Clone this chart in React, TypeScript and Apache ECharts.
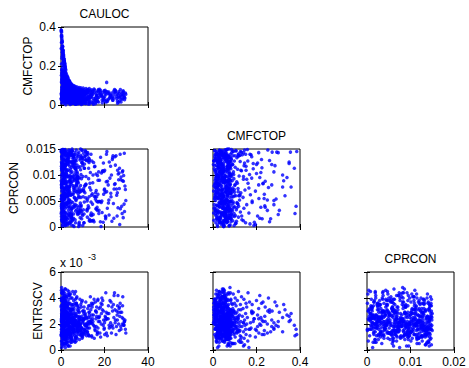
import React, { useEffect, useRef } from "react";
import * as echarts from "echarts";

// ---- Data (one entry per observation, same order in every array) ----
const CAULOC: number[] = [
  0.1, 0.2, 0.1, 0.3, 0.2, 0.4, 0.3, 0.5, 0.4, 0.6,
  0.5, 0.7, 0.6, 0.8, 0.7, 0.9, 0.8, 1.0, 0.9, 1.1,
  1.0, 1.2, 1.1, 1.3, 1.2, 1.4, 1.3, 1.5, 1.4, 1.6,
  1.5, 1.7, 1.6, 1.8, 1.7, 1.9, 2.0, 1.8, 2.1, 2.2,
  0.3, 0.8, 1.4, 2.3, 0.5, 1.9, 2.6, 0.2, 1.1, 2.8,
  3.0, 0.7, 2.1, 1.6, 3.2, 0.4, 2.7, 3.5, 1.2, 2.4,
  3.8, 1.8, 4.1, 0.9, 3.3, 4.4, 2.2, 3.7, 1.5, 4.6,
  5.0, 2.9, 4.8, 1.0, 5.5, 3.6, 6.1, 2.0, 4.3, 21.0,
  6.8, 3.1, 7.4, 5.2, 8.3, 0.6, 9.1, 4.0, 10.2, 6.5,
  11.5, 2.5, 13.0, 7.9, 15.2, 1.3, 17.8, 24.6, 12.4, 27.3,
  0.2, 3.4, 7.8, 12.1, 18.6, 25.3, 1.5, 5.9, 9.7, 29.2,
  2.1, 14.4, 0.7, 6.3, 21.7, 4.2, 10.8, 16.9, 27.6, 8.5,
  1.1, 5.1, 11.3, 23.4, 3.9, 19.5, 0.4, 7.1, 13.6, 28.4,
  2.8, 9.2, 15.8, 0.9, 26.2, 4.7, 12.9, 6.7, 20.3, 1.8,
  8.1, 3.2, 17.4, 10.4, 0.3, 24.1, 5.6, 14.9, 2.4, 29.6,
  11.9, 6.0, 1.3, 22.5, 8.8, 4.4, 16.3, 0.6, 27.0, 13.3,
  3.6, 7.4, 19.0, 1.6, 10.1, 25.8, 5.3, 14.0, 2.2, 18.1,
  0.8, 12.6, 4.9, 28.8, 7.3, 15.4, 2.6, 21.1, 9.5, 0.1,
  6.6, 3.0, 11.0, 23.9, 1.4, 17.0, 5.0, 8.9, 26.7, 13.8,
  2.0, 9.9, 4.0, 20.8, 0.5, 7.7, 14.7, 3.7, 29.0, 11.2,
  5.7, 16.0, 1.0, 8.4, 25.0, 3.3, 12.3, 0.3, 18.9, 6.9,
  10.6, 2.5, 22.9, 4.6, 14.2, 0.7, 7.0, 27.9, 9.0, 1.9,
  17.7, 5.4, 0.9, 12.0, 3.1, 20.0, 8.2, 26.0, 1.7, 15.0,
  4.1, 11.7, 0.2, 7.6, 23.0, 2.9, 16.6, 6.2, 29.4, 10.0,
  1.2, 8.6, 19.8, 3.5, 13.1, 0.4, 24.8, 5.8, 9.4, 2.7,
  14.5, 6.4, 21.4, 0.6, 11.1, 3.9, 28.1, 7.5, 17.2, 1.5,
  9.8, 2.3, 5.5, 16.4, 0.8, 26.5, 12.8, 4.3, 20.6, 7.2,
  3.0, 13.5, 0.1, 8.0, 22.2, 5.2, 18.4, 1.1, 10.9, 29.8,
  6.1, 15.6, 2.0, 24.3, 9.3, 0.5, 12.2, 4.8, 19.2, 7.8,
  1.6, 10.3, 27.2, 3.8, 14.1, 6.8, 0.9, 21.8, 8.7, 17.0,
  4.5, 11.4, 2.6, 25.6, 7.0, 0.3, 16.8, 5.5, 13.7, 28.6,
  0.7, 8.3, 20.4, 3.3, 12.7, 1.8, 6.6, 23.6, 10.5, 4.1,
  15.9, 2.9, 9.6, 0.2, 18.8, 5.0, 26.9, 13.2, 1.3, 7.4,
  3.7, 11.8, 6.3, 22.0, 0.6, 14.8, 9.1, 2.4, 19.6, 4.7,
  8.0, 0.4, 17.5, 5.9, 28.3, 2.2, 12.5, 10.7, 1.0, 24.4,
  3.1, 14.3, 7.2, 0.9, 20.9, 5.3, 16.2, 1.6, 9.7, 26.3,
  0.5, 2.3, 4.1, 6.2, 1.2, 8.4, 3.0, 10.5, 0.9, 5.3,
  7.1, 1.8, 3.6, 13.8, 0.3, 5.9, 2.7, 9.0, 4.5, 16.7,
  1.5, 6.8, 0.7, 3.9, 11.2, 2.1, 7.9, 4.8, 0.2, 19.4,
  3.3, 9.6, 1.0, 5.6, 2.5, 12.9, 0.6, 7.5, 4.2, 22.8,
  2.0, 4.4, 8.8, 1.3, 6.5, 0.4, 10.9, 3.5, 5.1, 14.6,
  0.8, 3.8, 6.0, 2.2, 9.3, 1.6, 4.7, 11.8, 0.1, 25.5,
  5.8, 2.9, 0.5, 7.3, 3.4, 13.4, 1.9, 8.1, 4.0, 17.9,
  1.1, 6.4, 2.6, 10.0, 0.7, 4.9, 3.1, 7.8, 1.4, 28.2,
  4.6, 0.3, 8.6, 2.4, 5.4, 12.2, 1.7, 6.9, 3.7, 20.5,
  2.8, 9.9, 0.9, 4.3, 7.0, 1.5, 11.5, 3.2, 5.7, 15.3,
  0.6, 3.5, 6.7, 1.2, 8.2, 2.0, 4.6, 10.3, 0.4, 23.7,
  6.3, 2.7, 0.2, 5.0, 3.9, 9.4, 1.8, 7.6, 4.4, 18.5,
  1.3, 7.2, 3.0, 11.0, 0.8, 5.5, 2.3, 8.7, 1.0, 26.8,
  4.9, 0.5, 9.1, 2.6, 6.1, 13.1, 1.6, 7.4, 3.6, 16.1,
  2.1, 5.2, 0.7, 3.4, 10.7, 1.1, 6.6, 4.1, 8.5, 21.3,
  0.3, 4.0, 7.7, 1.9, 5.8, 2.9, 12.5, 0.9, 3.8, 29.1,
  5.6, 1.4, 3.2, 9.7, 0.6, 6.2, 2.4, 8.0, 4.5, 14.2,
  1.7, 7.9, 0.4, 4.8, 2.8, 11.4, 1.0, 6.0, 3.3, 19.9,
  3.9, 0.8, 6.5, 2.2, 8.9, 1.5, 5.0, 10.1, 0.2, 24.9,
  2.5, 5.4, 1.2, 7.2, 3.7, 13.9, 0.5, 4.3, 9.2, 17.3,
  0.9, 3.1, 8.3, 1.6, 5.9, 2.0, 10.6, 4.7, 6.8, 27.5,
  4.2, 1.0, 6.3, 2.7, 0.3, 9.5, 3.5, 7.7, 1.9, 15.7,
  1.4, 4.5, 0.6, 8.1, 2.3, 5.6, 12.0, 3.0, 6.4, 22.1,
  3.4, 7.0, 1.8, 0.4, 4.9, 10.8, 2.6, 5.3, 1.1, 18.2,
  0.7, 2.9, 5.7, 9.8, 1.3, 3.8, 7.5, 0.2, 4.1, 25.9,
  6.0, 2.1, 0.8, 4.4, 11.6, 3.3, 1.5, 8.4, 5.2, 13.0,
  2.4, 0.5, 6.9, 3.6, 1.7, 9.0, 4.8, 0.9, 7.3, 20.1,
  1.0, 5.1, 3.1, 7.8, 0.3, 12.7, 2.2, 6.1, 4.0, 28.7,
  4.7, 1.6, 8.7, 0.6, 3.2, 5.5, 10.4, 2.8, 1.2, 16.4,
  0.4, 3.9, 2.0, 6.6, 1.4, 4.6, 0.8, 9.3, 5.9, 23.2,
];

const CMFCTOP: number[] = [
  0.385, 0.382, 0.377, 0.374, 0.356, 0.35, 0.359, 0.331, 0.34, 0.325,
  0.32, 0.30, 0.293, 0.285, 0.28, 0.28, 0.272, 0.27, 0.265, 0.26,
  0.255, 0.252, 0.25, 0.24, 0.238, 0.236, 0.23, 0.226, 0.223, 0.22,
  0.22, 0.215, 0.211, 0.21, 0.205, 0.20, 0.195, 0.19, 0.185, 0.18,
  0.178, 0.172, 0.168, 0.165, 0.161, 0.158, 0.155, 0.152, 0.150, 0.147,
  0.145, 0.142, 0.140, 0.138, 0.135, 0.133, 0.131, 0.128, 0.126, 0.125,
  0.122, 0.120, 0.118, 0.117, 0.115, 0.113, 0.112, 0.110, 0.109, 0.107,
  0.106, 0.105, 0.103, 0.102, 0.100, 0.099, 0.098, 0.097, 0.096, 0.116,
  0.094, 0.093, 0.092, 0.091, 0.090, 0.090, 0.089, 0.088, 0.087, 0.086,
  0.085, 0.085, 0.084, 0.083, 0.082, 0.082, 0.081, 0.080, 0.080, 0.079,
  0.052, 0.031, 0.064, 0.018, 0.045, 0.071, 0.008, 0.076, 0.039, 0.027,
  0.067, 0.012, 0.074, 0.041, 0.058, 0.003, 0.049, 0.069, 0.015, 0.081,
  0.021, 0.057, 0.033, 0.062, 0.076, 0.024, 0.044, 0.011, 0.072, 0.048,
  0.036, 0.079, 0.007, 0.063, 0.053, 0.016, 0.066, 0.029, 0.075, 0.059,
  0.009, 0.045, 0.038, 0.055, 0.078, 0.034, 0.068, 0.004, 0.027, 0.062,
  0.071, 0.022, 0.083, 0.042, 0.061, 0.013, 0.050, 0.026, 0.039, 0.019,
  0.054, 0.070, 0.011, 0.037, 0.028, 0.057, 0.080, 0.046, 0.002, 0.066,
  0.074, 0.030, 0.019, 0.051, 0.043, 0.077, 0.064, 0.017, 0.058, 0.035,
  0.006, 0.048, 0.065, 0.024, 0.056, 0.040, 0.033, 0.073, 0.069, 0.052,
  0.015, 0.037, 0.082, 0.068, 0.029, 0.054, 0.022, 0.060, 0.041, 0.008,
  0.047, 0.014, 0.071, 0.032, 0.076, 0.063, 0.045, 0.010, 0.025, 0.072,
  0.020, 0.079, 0.046, 0.035, 0.060, 0.053, 0.004, 0.031, 0.067, 0.043,
  0.056, 0.028, 0.040, 0.078, 0.018, 0.070, 0.049, 0.009, 0.061, 0.034,
  0.012, 0.062, 0.057, 0.023, 0.050, 0.084, 0.030, 0.066, 0.036, 0.075,
  0.044, 0.016, 0.073, 0.059, 0.005, 0.038, 0.064, 0.081, 0.027, 0.050,
  0.069, 0.041, 0.021, 0.065, 0.052, 0.025, 0.057, 0.013, 0.080, 0.070,
  0.032, 0.055, 0.072, 0.047, 0.019, 0.014, 0.076, 0.037, 0.054, 0.026,
  0.063, 0.044, 0.030, 0.068, 0.035, 0.010, 0.049, 0.077, 0.017, 0.055,
  0.083, 0.024, 0.048, 0.072, 0.003, 0.061, 0.039, 0.052, 0.063, 0.045,
  0.037, 0.058, 0.044, 0.020, 0.078, 0.067, 0.025, 0.029, 0.011, 0.074,
  0.065, 0.008, 0.077, 0.033, 0.059, 0.047, 0.018, 0.071, 0.041, 0.073,
  0.028, 0.050, 0.060, 0.081, 0.036, 0.066, 0.006, 0.040, 0.063, 0.030,
  0.022, 0.069, 0.076, 0.060, 0.051, 0.034, 0.022, 0.013, 0.048, 0.057,
  0.042, 0.027, 0.012, 0.066, 0.082, 0.057, 0.044, 0.020, 0.038, 0.079,
  0.026, 0.062, 0.073, 0.048, 0.067, 0.031, 0.005, 0.079, 0.058, 0.052,
  0.078, 0.053, 0.035, 0.016, 0.026, 0.070, 0.063, 0.038, 0.047, 0.040,
  0.140, 0.062, 0.035, 0.021, 0.095, 0.048, 0.071, 0.012, 0.118, 0.043,
  0.027, 0.083, 0.054, 0.038, 0.165, 0.009, 0.046, 0.060, 0.030, 0.022,
  0.105, 0.040, 0.132, 0.018, 0.055, 0.077, 0.006, 0.068, 0.210, 0.035,
  0.088, 0.024, 0.061, 0.052, 0.033, 0.014, 0.150, 0.037, 0.079, 0.050,
  0.044, 0.015, 0.066, 0.123, 0.029, 0.185, 0.041, 0.058, 0.074, 0.010,
  0.076, 0.039, 0.058, 0.101, 0.019, 0.038, 0.025, 0.063, 0.290, 0.044,
  0.011, 0.094, 0.051, 0.072, 0.027, 0.048, 0.064, 0.034, 0.062, 0.057,
  0.024, 0.067, 0.112, 0.007, 0.098, 0.053, 0.015, 0.045, 0.082, 0.031,
  0.036, 0.128, 0.020, 0.057, 0.083, 0.060, 0.145, 0.012, 0.043, 0.016,
  0.019, 0.050, 0.175, 0.092, 0.044, 0.030, 0.028, 0.105, 0.022, 0.066,
  0.062, 0.071, 0.013, 0.155, 0.058, 0.021, 0.046, 0.039, 0.240, 0.025,
  0.064, 0.037, 0.320, 0.031, 0.086, 0.008, 0.051, 0.070, 0.017, 0.048,
  0.073, 0.026, 0.049, 0.067, 0.195, 0.040, 0.130, 0.023, 0.041, 0.061,
  0.060, 0.088, 0.033, 0.014, 0.052, 0.029, 0.098, 0.016, 0.110, 0.039,
  0.026, 0.009, 0.260, 0.065, 0.072, 0.115, 0.034, 0.047, 0.056, 0.068,
  0.025, 0.033, 0.059, 0.188, 0.069, 0.019, 0.045, 0.152, 0.076, 0.040,
  0.041, 0.058, 0.036, 0.062, 0.305, 0.017, 0.099, 0.028, 0.054, 0.071,
  0.016, 0.052, 0.071, 0.084, 0.061, 0.020, 0.225, 0.049, 0.012, 0.027,
  0.047, 0.036, 0.074, 0.143, 0.038, 0.170, 0.018, 0.066, 0.118, 0.069,
  0.079, 0.056, 0.032, 0.010, 0.120, 0.053, 0.270, 0.027, 0.047, 0.015,
  0.085, 0.023, 0.042, 0.200, 0.063, 0.090, 0.013, 0.039, 0.078, 0.052,
  0.099, 0.108, 0.031, 0.072, 0.048, 0.059, 0.015, 0.081, 0.036, 0.034,
  0.178, 0.064, 0.110, 0.021, 0.030, 0.045, 0.073, 0.125, 0.005, 0.058,
  0.011, 0.061, 0.126, 0.092, 0.038, 0.026, 0.088, 0.067, 0.235, 0.074,
  0.045, 0.052, 0.019, 0.071, 0.093, 0.104, 0.043, 0.350, 0.028, 0.021,
  0.080, 0.115, 0.215, 0.050, 0.034, 0.040, 0.067, 0.011, 0.091, 0.062,
  0.068, 0.250, 0.055, 0.097, 0.022, 0.076, 0.006, 0.140, 0.030, 0.043,
  0.280, 0.030, 0.082, 0.064, 0.063, 0.039, 0.160, 0.077, 0.013, 0.066,
  0.102, 0.090, 0.047, 0.180, 0.140, 0.025, 0.069, 0.030, 0.205, 0.050,
  0.115, 0.124, 0.170, 0.041, 0.230, 0.070, 0.300, 0.015, 0.095, 0.036,
];

const CPRCON: number[] = [
  0.0145, 0.0040, 0.0026, 0.0113, 0.0144, 0.0122, 0.0077, 0.0060, 0.0095, 0.0089,
  0.0077, 0.0024, 0.0144, 0.0118, 0.0106, 0.0051, 0.0144, 0.0120, 0.0016, 0.0128,
  0.0076, 0.0148, 0.0032, 0.0088, 0.0041, 0.0063, 0.0083, 0.0016, 0.0130, 0.0105,
  0.0038, 0.0095, 0.0055, 0.0143, 0.0021, 0.0120, 0.0069, 0.0009, 0.0112, 0.0047,
  0.0135, 0.0062, 0.0101, 0.0027, 0.0084, 0.0149, 0.0043, 0.0117, 0.0008, 0.0071,
  0.0123, 0.0036, 0.0092, 0.0057, 0.0139, 0.0014, 0.0108, 0.0066, 0.0029, 0.0126,
  0.0052, 0.0098, 0.0141, 0.0019, 0.0074, 0.0111, 0.0045, 0.0133, 0.0087, 0.0033,
  0.0146, 0.0060, 0.0022, 0.0115, 0.0080, 0.0039, 0.0127, 0.0003, 0.0093, 0.0068,
  0.0106, 0.0048, 0.0137, 0.0012, 0.0075, 0.0120, 0.0031, 0.0089, 0.0058, 0.0143,
  0.0097, 0.0025, 0.0131, 0.0064, 0.0010, 0.0112, 0.0049, 0.0082, 0.0140, 0.0035,
  0.0043, 0.0128, 0.0071, 0.0019, 0.0104, 0.0137, 0.0056, 0.0092, 0.0147, 0.0030,
  0.0118, 0.0064, 0.0002, 0.0139, 0.0081, 0.0027, 0.0113, 0.0048, 0.0096, 0.0069,
  0.0091, 0.0035, 0.0145, 0.0011, 0.0077, 0.0123, 0.0060, 0.0132, 0.0023, 0.0108,
  0.0015, 0.0101, 0.0054, 0.0149, 0.0037, 0.0086, 0.0124, 0.0008, 0.0067, 0.0136,
  0.0059, 0.0110, 0.0026, 0.0142, 0.0082, 0.0045, 0.0117, 0.0013, 0.0098, 0.0072,
  0.0033, 0.0126, 0.0066, 0.0094, 0.0018, 0.0139, 0.0050, 0.0114, 0.0005, 0.0084,
  0.0148, 0.0041, 0.0107, 0.0074, 0.0129, 0.0021, 0.0088, 0.0061, 0.0120, 0.0010,
  0.0070, 0.0133, 0.0029, 0.0099, 0.0055, 0.0116, 0.0039, 0.0145, 0.0016, 0.0089,
  0.0112, 0.0004, 0.0080, 0.0137, 0.0046, 0.0063, 0.0125, 0.0034, 0.0104, 0.0140,
  0.0057, 0.0122, 0.0015, 0.0087, 0.0131, 0.0024, 0.0100, 0.0068, 0.0044, 0.0147,
  0.0134, 0.0035, 0.0092, 0.0009, 0.0119, 0.0052, 0.0143, 0.0076, 0.0028, 0.0111,
  0.0025, 0.0102, 0.0065, 0.0138, 0.0012, 0.0085, 0.0127, 0.0040, 0.0150, 0.0062,
  0.0090, 0.0047, 0.0118, 0.0031, 0.0141, 0.0073, 0.0006, 0.0109, 0.0053, 0.0124,
  0.0083, 0.0139, 0.0020, 0.0097, 0.0058, 0.0130, 0.0038, 0.0114, 0.0079, 0.0003,
  0.0146, 0.0067, 0.0107, 0.0023, 0.0128, 0.0045, 0.0135, 0.0017, 0.0093, 0.0060,
  0.0044, 0.0121, 0.0088, 0.0011, 0.0136, 0.0072, 0.0026, 0.0103, 0.0049, 0.0115,
  0.0132, 0.0014, 0.0096, 0.0058, 0.0124, 0.0091, 0.0037, 0.0144, 0.0019, 0.0081,
  0.0070, 0.0105, 0.0148, 0.0030, 0.0125, 0.0063, 0.0001, 0.0100, 0.0136, 0.0051,
  0.0042, 0.0117, 0.0086, 0.0017, 0.0069, 0.0131, 0.0054, 0.0095, 0.0108, 0.0027,
  0.0120, 0.0033, 0.0140, 0.0078, 0.0022, 0.0112, 0.0064, 0.0046, 0.0129, 0.0090,
  0.0009, 0.0082, 0.0127, 0.0061, 0.0148, 0.0036, 0.0099, 0.0122, 0.0071, 0.0018,
  0.0103, 0.0057, 0.0021, 0.0134, 0.0113, 0.0075, 0.0043, 0.0130, 0.0008, 0.0147,
  0.0066, 0.0087, 0.0124, 0.0029, 0.0050, 0.0141, 0.0113, 0.0076, 0.0012, 0.0106,
  0.0037, 0.0143, 0.0094, 0.0052, 0.0118, 0.0024, 0.0138, 0.0080, 0.0063, 0.0004,
  0.0115, 0.0055, 0.0032, 0.0133, 0.0089, 0.0016, 0.0127, 0.0048, 0.0098, 0.0073,
  0.0126, 0.0012, 0.0083, 0.0110, 0.0140, 0.0039, 0.0070, 0.0144, 0.0025, 0.0102,
  0.0012, 0.0087, 0.0143, 0.0056, 0.0101, 0.0028, 0.0134, 0.0069, 0.0040, 0.0119,
  0.0093, 0.0017, 0.0126, 0.0048, 0.0075, 0.0139, 0.0006, 0.0110, 0.0061, 0.0032,
  0.0147, 0.0053, 0.0021, 0.0099, 0.0130, 0.0065, 0.0037, 0.0115, 0.0081, 0.0009,
  0.0071, 0.0124, 0.0044, 0.0003, 0.0107, 0.0058, 0.0140, 0.0027, 0.0091, 0.0117,
  0.0036, 0.0098, 0.0132, 0.0060, 0.0014, 0.0122, 0.0079, 0.0046, 0.0150, 0.0085,
  0.0104, 0.0008, 0.0067, 0.0137, 0.0042, 0.0089, 0.0019, 0.0128, 0.0054, 0.0073,
  0.0025, 0.0145, 0.0112, 0.0033, 0.0096, 0.0011, 0.0063, 0.0136, 0.0078, 0.0049,
  0.0131, 0.0039, 0.0084, 0.0118, 0.0020, 0.0141, 0.0057, 0.0094, 0.0030, 0.0106,
  0.0062, 0.0109, 0.0004, 0.0076, 0.0125, 0.0035, 0.0148, 0.0051, 0.0088, 0.0016,
  0.0097, 0.0022, 0.0139, 0.0045, 0.0068, 0.0114, 0.0082, 0.0007, 0.0127, 0.0059,
  0.0050, 0.0120, 0.0031, 0.0092, 0.0144, 0.0013, 0.0105, 0.0070, 0.0038, 0.0133,
  0.0116, 0.0064, 0.0100, 0.0018, 0.0052, 0.0135, 0.0029, 0.0086, 0.0142, 0.0047,
  0.0026, 0.0079, 0.0121, 0.0066, 0.0005, 0.0098, 0.0144, 0.0041, 0.0111, 0.0074,
  0.0138, 0.0034, 0.0057, 0.0129, 0.0090, 0.0015, 0.0072, 0.0119, 0.0047, 0.0102,
  0.0083, 0.0146, 0.0010, 0.0061, 0.0113, 0.0044, 0.0128, 0.0023, 0.0095, 0.0036,
  0.0055, 0.0117, 0.0089, 0.0003, 0.0136, 0.0077, 0.0041, 0.0109, 0.0064, 0.0142,
  0.0123, 0.0068, 0.0019, 0.0148, 0.0032, 0.0101, 0.0060, 0.0085, 0.0010, 0.0127,
  0.0042, 0.0093, 0.0135, 0.0024, 0.0078, 0.0056, 0.0114, 0.0001, 0.0131, 0.0071,
  0.0108, 0.0029, 0.0074, 0.0118, 0.0046, 0.0140, 0.0016, 0.0097, 0.0060, 0.0083,
  0.0018, 0.0132, 0.0053, 0.0090, 0.0137, 0.0027, 0.0081, 0.0124, 0.0039, 0.0106,
  0.0149, 0.0059, 0.0026, 0.0103, 0.0070, 0.0120, 0.0008, 0.0049, 0.0115, 0.0091,
  0.0067, 0.0011, 0.0122, 0.0044, 0.0085, 0.0030, 0.0141, 0.0098, 0.0020, 0.0058,
  0.0094, 0.0126, 0.0037, 0.0001, 0.0110, 0.0063, 0.0050, 0.0138, 0.0079, 0.0023,
  0.0032, 0.0087, 0.0145, 0.0069, 0.0024, 0.0121, 0.0102, 0.0014, 0.0055, 0.0134,
  0.0111, 0.0045, 0.0076, 0.0133, 0.0058, 0.0007, 0.0095, 0.0125, 0.0040, 0.0066,
  0.0073, 0.0139, 0.0017, 0.0086, 0.0129, 0.0048, 0.0061, 0.0031, 0.0146, 0.0012,
  0.0130, 0.0052, 0.0099, 0.0026, 0.0117, 0.0080, 0.0035, 0.0143, 0.0068, 0.0109,
  0.0043, 0.0106, 0.0064, 0.0141, 0.0015, 0.0093, 0.0127, 0.0057, 0.0022, 0.0088,
  0.0082, 0.0021, 0.0116, 0.0050, 0.0097, 0.0137, 0.0074, 0.0009, 0.0123, 0.0034,
  0.0136, 0.0062, 0.0006, 0.0112, 0.0084, 0.0019, 0.0143, 0.0071, 0.0038, 0.0100,
];

const ENTRSCV: number[] = [
  0.0012, 0.0016, 0.0011, 0.0019, 0.0023, 0.0026, 0.0028, 0.0031, 0.0027, 0.0035,
  0.0025, 0.0018, 0.0034, 0.0037, 0.0021, 0.0017, 0.0030, 0.0023, 0.0014, 0.0029,
  0.0040, 0.0030, 0.0020, 0.0033, 0.0026, 0.0015, 0.0022, 0.0012, 0.0036, 0.0019,
  0.0025, 0.0042, 0.0013, 0.0032, 0.0027, 0.0038, 0.0010, 0.0024, 0.0029, 0.0035,
  0.0030, 0.0021, 0.0037, 0.0016, 0.0044, 0.0025, 0.0033, 0.0012, 0.0028, 0.0019,
  0.0023, 0.0039, 0.0014, 0.0032, 0.0026, 0.0018, 0.0041, 0.0022, 0.0035, 0.0011,
  0.0027, 0.0020, 0.0031, 0.0045, 0.0016, 0.0024, 0.0038, 0.0013, 0.0029, 0.0021,
  0.0034, 0.0025, 0.0017, 0.0040, 0.0022, 0.0036, 0.0019, 0.0030, 0.0012, 0.0024,
  0.0028, 0.0043, 0.0015, 0.0032, 0.0021, 0.0026, 0.0035, 0.0018, 0.0030, 0.0023,
  0.0020, 0.0036, 0.0027, 0.0014, 0.0039, 0.0031, 0.0022, 0.0044, 0.0017, 0.0029,
  0.0046, 0.0021, 0.0033, 0.0017, 0.0028, 0.0012, 0.0039, 0.0025, 0.0009, 0.0022,
  0.0027, 0.0035, 0.0043, 0.0011, 0.0024, 0.0031, 0.0020, 0.0038, 0.0016, 0.0029,
  0.0012, 0.0040, 0.0026, 0.0033, 0.0018, 0.0030, 0.0007, 0.0036, 0.0022, 0.0041,
  0.0034, 0.0014, 0.0037, 0.0023, 0.0042, 0.0028, 0.0011, 0.0045, 0.0026, 0.0019,
  0.0030, 0.0019, 0.0025, 0.0013, 0.0048, 0.0035, 0.0022, 0.0027, 0.0040, 0.0016,
  0.0024, 0.0032, 0.0015, 0.0038, 0.0020, 0.0043, 0.0029, 0.0010, 0.0026, 0.0034,
  0.0039, 0.0017, 0.0031, 0.0044, 0.0023, 0.0027, 0.0013, 0.0036, 0.0021, 0.0033,
  0.0028, 0.0012, 0.0035, 0.0020, 0.0041, 0.0018, 0.0030, 0.0024, 0.0037, 0.0033,
  0.0022, 0.0046, 0.0027, 0.0017, 0.0031, 0.0039, 0.0014, 0.0025, 0.0032, 0.0021,
  0.0037, 0.0010, 0.0024, 0.0029, 0.0016, 0.0034, 0.0022, 0.0042, 0.0019, 0.0028,
  0.0018, 0.0030, 0.0044, 0.0026, 0.0023, 0.0013, 0.0032, 0.0038, 0.0035, 0.0020,
  0.0033, 0.0022, 0.0018, 0.0040, 0.0027, 0.0011, 0.0036, 0.0029, 0.0015, 0.0047,
  0.0026, 0.0045, 0.0031, 0.0014, 0.0037, 0.0021, 0.0024, 0.0034, 0.0008, 0.0019,
  0.0032, 0.0025, 0.0040, 0.0018, 0.0037, 0.0028, 0.0012, 0.0043, 0.0023, 0.0030,
  0.0041, 0.0023, 0.0016, 0.0035, 0.0029, 0.0019, 0.0031, 0.0038, 0.0012, 0.0027,
  0.0020, 0.0036, 0.0028, 0.0024, 0.0015, 0.0042, 0.0025, 0.0031, 0.0022, 0.0005,
  0.0038, 0.0026, 0.0019, 0.0033, 0.0040, 0.0020, 0.0029, 0.0013, 0.0044, 0.0035,
  0.0015, 0.0041, 0.0034, 0.0022, 0.0017, 0.0031, 0.0036, 0.0027, 0.0024, 0.0013,
  0.0027, 0.0016, 0.0047, 0.0025, 0.0033, 0.0039, 0.0021, 0.0010, 0.0038, 0.0029,
  0.0032, 0.0024, 0.0036, 0.0043, 0.0011, 0.0020, 0.0028, 0.0034, 0.0039, 0.0017,
  0.0022, 0.0037, 0.0018, 0.0030, 0.0026, 0.0044, 0.0013, 0.0035, 0.0031, 0.0024,
  0.0043, 0.0032, 0.0023, 0.0015, 0.0034, 0.0021, 0.0039, 0.0019, 0.0028, 0.0036,
  0.0030, 0.0012, 0.0026, 0.0038, 0.0040, 0.0025, 0.0033, 0.0022, 0.0030, 0.0014,
  0.0045, 0.0019, 0.0034, 0.0028, 0.0009, 0.0036, 0.0017, 0.0041, 0.0023, 0.0031,
  0.0021, 0.0027, 0.0032, 0.0016, 0.0034, 0.0037, 0.0025, 0.0030, 0.0020, 0.0042,
  0.0028, 0.0033, 0.0040, 0.0046, 0.0013, 0.0022, 0.0018, 0.0035, 0.0024, 0.0029,
  0.0021, 0.0008, 0.0017, 0.0013, 0.0029, 0.0019, 0.0004, 0.0024, 0.0015, 0.0022,
  0.0010, 0.0025, 0.0019, 0.0021, 0.0002, 0.0016, 0.0032, 0.0018, 0.0009, 0.0014,
  0.0018, 0.0023, 0.0006, 0.0027, 0.0015, 0.0012, 0.0020, 0.0008, 0.0024, 0.0019,
  0.0014, 0.0017, 0.0020, 0.0007, 0.0023, 0.0011, 0.0016, 0.0026, 0.0003, 0.0021,
  0.0030, 0.0011, 0.0015, 0.0018, 0.0006, 0.0022, 0.0019, 0.0013, 0.0028, 0.0024,
  0.0009, 0.0024, 0.0020, 0.0005, 0.0017, 0.0033, 0.0014, 0.0011, 0.0019, 0.0018,
  0.0022, 0.0016, 0.0027, 0.0012, 0.0003, 0.0025, 0.0018, 0.0021, 0.0010, 0.0013,
  0.0035, 0.0009, 0.0014, 0.0022, 0.0019, 0.0006, 0.0026, 0.0017, 0.0012, 0.0020,
  0.0016, 0.0031, 0.0023, 0.0010, 0.0018, 0.0014, 0.0004, 0.0027, 0.0020, 0.0025,
  0.0011, 0.0021, 0.0017, 0.0030, 0.0007, 0.0015, 0.0019, 0.0023, 0.0016, 0.0009,
  0.0026, 0.0013, 0.0010, 0.0020, 0.0024, 0.0002, 0.0017, 0.0014, 0.0022, 0.0030,
  0.0019, 0.0029, 0.0014, 0.0008, 0.0021, 0.0012, 0.0034, 0.0016, 0.0006, 0.0020,
  0.0008, 0.0018, 0.0022, 0.0013, 0.0016, 0.0025, 0.0010, 0.0019, 0.0028, 0.0015,
  0.0023, 0.0005, 0.0012, 0.0019, 0.0028, 0.0017, 0.0021, 0.0009, 0.0014, 0.0024,
  0.0015, 0.0020, 0.0031, 0.0003, 0.0012, 0.0022, 0.0026, 0.0017, 0.0008, 0.0011,
  0.0013, 0.0027, 0.0018, 0.0024, 0.0015, 0.0009, 0.0020, 0.0036, 0.0012, 0.0022,
  0.0020, 0.0011, 0.0025, 0.0016, 0.0029, 0.0007, 0.0013, 0.0022, 0.0018, 0.0010,
  0.0027, 0.0014, 0.0004, 0.0021, 0.0011, 0.0019, 0.0023, 0.0016, 0.0032, 0.0017,
  0.0012, 0.0024, 0.0019, 0.0009, 0.0023, 0.0016, 0.0027, 0.0013, 0.0007, 0.0021,
  0.0006, 0.0017, 0.0038, 0.0020, 0.0014, 0.0023, 0.0018, 0.0030, 0.0011, 0.0025,
  0.0019, 0.0033, 0.0012, 0.0015, 0.0021, 0.0005, 0.0016, 0.0024, 0.0009, 0.0018,
  0.0024, 0.0016, 0.0022, 0.0028, 0.0011, 0.0013, 0.0007, 0.0020, 0.0042, 0.0015,
  0.0029, 0.0010, 0.0018, 0.0015, 0.0025, 0.0020, 0.0013, 0.0006, 0.0023, 0.0019,
  0.0017, 0.0022, 0.0008, 0.0026, 0.0031, 0.0016, 0.0014, 0.0021, 0.0012, 0.0010,
  0.0032, 0.0019, 0.0024, 0.0011, 0.0005, 0.0028, 0.0015, 0.0022, 0.0017, 0.0023,
  0.0014, 0.0026, 0.0020, 0.0012, 0.0018, 0.0009, 0.0039, 0.0025, 0.0016, 0.0020,
  0.0021, 0.0013, 0.0017, 0.0024, 0.0010, 0.0020, 0.0027, 0.0003, 0.0015, 0.0012,
  0.0016, 0.0023, 0.0029, 0.0018, 0.0013, 0.0022, 0.0007, 0.0014, 0.0026, 0.0019,
  0.0010, 0.0020, 0.0016, 0.0028, 0.0021, 0.0012, 0.0023, 0.0034, 0.0018, 0.0026,
  0.0025, 0.0015, 0.0011, 0.0019, 0.0037, 0.0008, 0.0022, 0.0017, 0.0030, 0.0013,
];

// Variable names and axis ranges [min, max, tick interval]
const VAR_NAMES = ["CAULOC", "CMFCTOP", "CPRCON", "ENTRSCV"];
const X_RANGES: [number, number, number][] = [
  [0, 40, 20],
  [0, 0.4, 0.2],
  [0, 0.02, 0.01],
];
const Y_RANGES: [number, number, number][] = [
  [0, 0.4, 0.2],
  [0, 0.015, 0.005],
  [0, 0.006, 0.002],
];

const COLUMNS: number[][] = [CAULOC, CMFCTOP, CPRCON, ENTRSCV];

const FONT = "'Liberation Sans', Arial, Helvetica, sans-serif";
const FS = 12;
const COL_LEFT = [61, 213, 367];
const ROW_TOP = [27, 149, 272];
const PW = 87;
const PH = 78;

function fmtY(row: number) {
  return (v: number) => {
    if (row === 2) return String(Math.round(v * 1000));
    return String(parseFloat(v.toPrecision(6)));
  };
}

export default function App() {
  const ref = useRef<HTMLDivElement>(null);

  useEffect(() => {
    if (!ref.current) return;
    const chart = echarts.init(ref.current, undefined, { renderer: "svg" });

    const grid: any[] = [];
    const xAxis: any[] = [];
    const yAxis: any[] = [];
    const series: any[] = [];

    let g = 0;
    for (let row = 0; row < 3; row++) {
      for (let col = 0; col <= row; col++) {
        grid.push({
          left: COL_LEFT[col],
          top: ROW_TOP[row],
          width: PW,
          height: PH,
          show: true,
          borderColor: "#000",
          borderWidth: 1,
          backgroundColor: "#fff",
          containLabel: false,
        });
        const [xmin, xmax, xint] = X_RANGES[col];
        const [ymin, ymax, yint] = Y_RANGES[row];
        const tick = { show: true, inside: true, length: 3, lineStyle: { color: "#000", width: 1 } };
        const labelX = {
          show: row === 2,
          color: "#000",
          fontSize: FS,
          fontFamily: FONT,
          margin: 6,
          formatter: (v: number) => String(parseFloat(v.toPrecision(6))),
        };
        const labelY = {
          show: col === 0,
          color: "#000",
          fontSize: FS,
          fontFamily: FONT,
          margin: 5,
          formatter: fmtY(row),
        };
        const xi = xAxis.length;
        xAxis.push({
          type: "value", gridIndex: g, position: "bottom",
          min: xmin, max: xmax, interval: xint,
          axisLine: { show: false }, axisTick: tick, axisLabel: labelX, splitLine: { show: false },
        });
        xAxis.push({
          type: "value", gridIndex: g, position: "top",
          min: xmin, max: xmax, interval: xint,
          axisLine: { show: false }, axisTick: tick, axisLabel: { show: false }, splitLine: { show: false },
        });
        const yi = yAxis.length;
        yAxis.push({
          type: "value", gridIndex: g, position: "left",
          min: ymin, max: ymax, interval: yint,
          axisLine: { show: false }, axisTick: tick, axisLabel: labelY, splitLine: { show: false },
        });
        yAxis.push({
          type: "value", gridIndex: g, position: "right",
          min: ymin, max: ymax, interval: yint,
          axisLine: { show: false }, axisTick: tick, axisLabel: { show: false }, splitLine: { show: false },
        });
        const xs = COLUMNS[col];
        const ys = COLUMNS[row + 1];
        series.push({
          type: "scatter",
          xAxisIndex: xi,
          yAxisIndex: yi,
          symbol: "circle",
          symbolSize: 3.5,
          itemStyle: { color: "#0000ff" },
          data: xs.map((v, i) => [v, ys[i]]),
          clip: true,
          silent: true,
        });
        g++;
      }
    }

    const textStyle = (text: string, size = FS) => ({
      text,
      fill: "#000",
      fontSize: size,
      fontFamily: FONT,
      textAlign: "center",
      textVerticalAlign: "middle",
    });

    const graphic: any[] = [];
    for (let k = 0; k < 3; k++) {
      graphic.push({
        type: "text",
        x: COL_LEFT[k] + PW / 2,
        y: ROW_TOP[k] - 13,
        style: textStyle(VAR_NAMES[k]),
      });
    }
    const yNameX = [28, 14, 38];
    for (let r = 0; r < 3; r++) {
      graphic.push({
        type: "text",
        x: yNameX[r],
        y: ROW_TOP[r] + PH / 2,
        rotation: Math.PI / 2,
        style: textStyle(VAR_NAMES[r + 1]),
      });
    }
    graphic.push({
      type: "text",
      x: 60,
      y: ROW_TOP[2] - 9,
      style: { ...textStyle("x 10"), textAlign: "left" },
    });
    graphic.push({
      type: "text",
      x: 88,
      y: ROW_TOP[2] - 15,
      style: { ...textStyle("-3", 9), textAlign: "left" },
    });

    chart.setOption({
      animation: false,
      backgroundColor: "#fff",
      grid,
      xAxis,
      yAxis,
      series,
      graphic,
    });

    return () => chart.dispose();
  }, []);

  return (
    <div
      ref={ref}
      style={{ position: "fixed", left: 0, top: 0, width: 469, height: 368 }}
    />
  );
}
